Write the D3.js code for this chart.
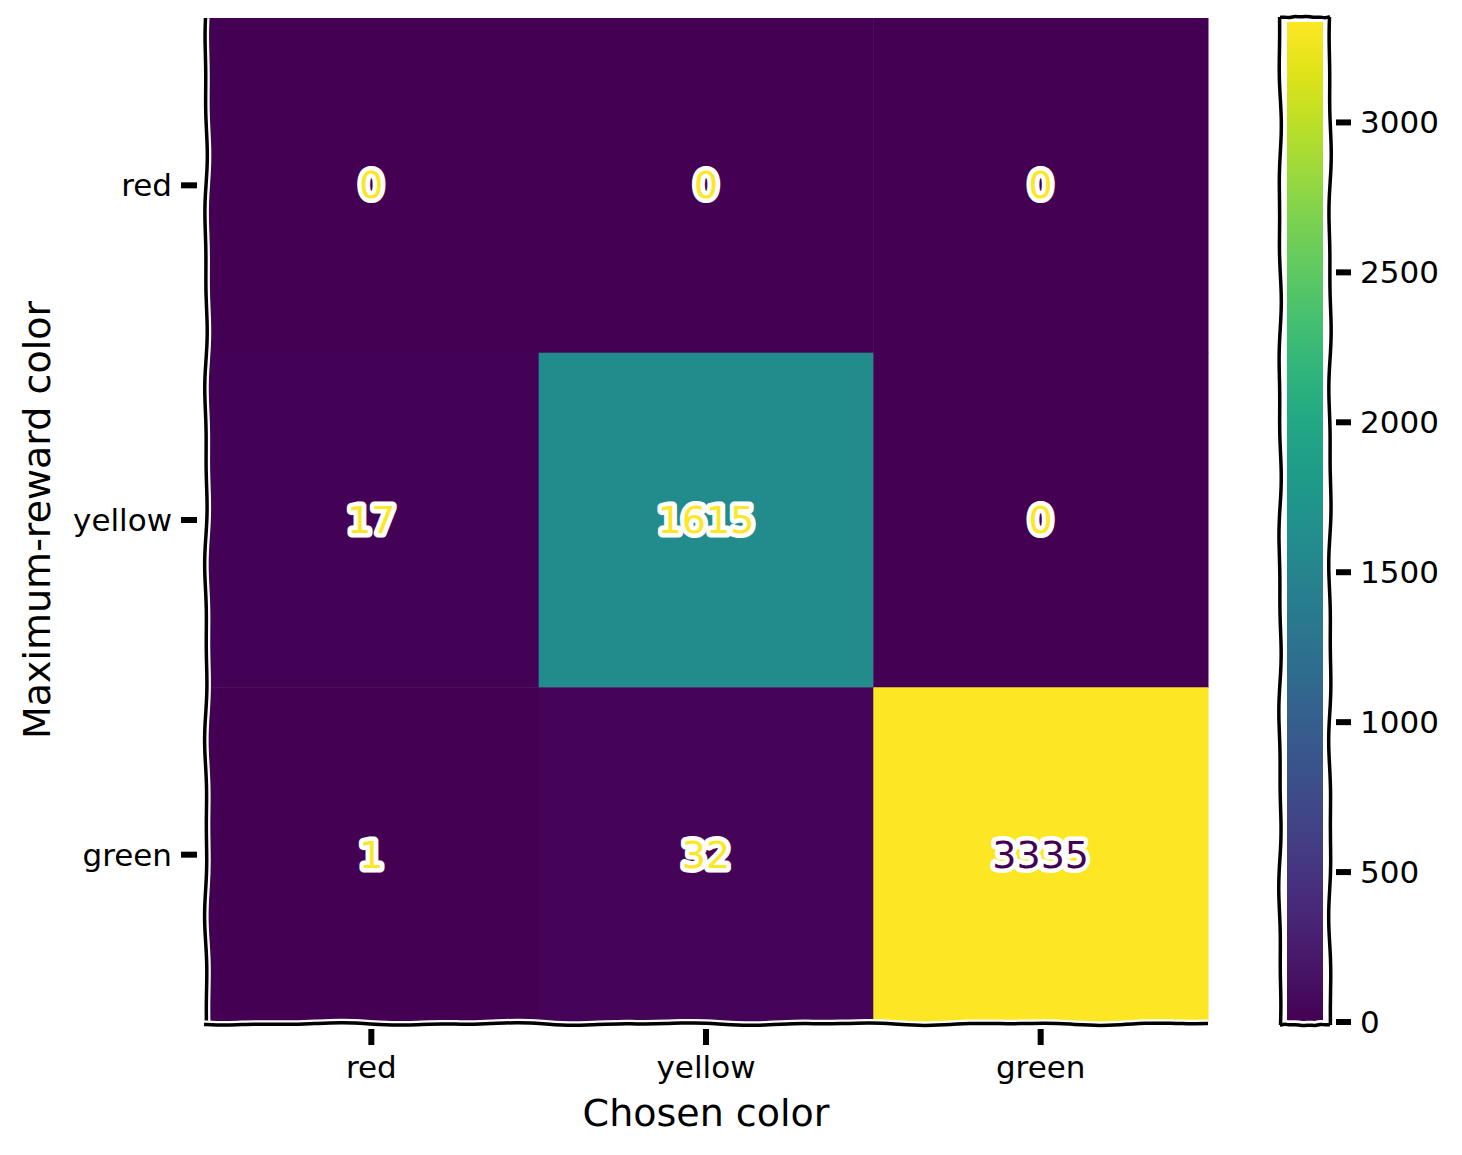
<!DOCTYPE html>
<html><head><meta charset="utf-8">
<script src="https://cdn.jsdelivr.net/npm/d3@7"></script>
<style>body{margin:0;background:#fff}svg text{font-family:"DejaVu Sans",sans-serif}</style>
</head><body><div id="chart"></div>
<script>
const rowLabels = ['red', 'yellow', 'green'];
const colLabels = ['red', 'yellow', 'green'];
const counts = [
  [0, 0, 0],
  [17, 1615, 0],
  [1, 32, 3335]
];
const cbTicks = [0, 500, 1000, 1500, 2000, 2500, 3000];

const W = 1462, H = 1155;
const svg = d3.select('#chart').append('svg').attr('width', W).attr('height', H);
const m = {left: 204, top: 18, size: 1004};
const vmax = 3335;
const color = d => d3.interpolateViridis(d / vmax);

const x = d3.scaleBand().domain(colLabels).range([m.left, m.left + m.size]);
const y = d3.scaleBand().domain(rowLabels).range([m.top, m.top + m.size]);

const cells = [];
counts.forEach((row, i) => row.forEach((v, j) => cells.push({r: rowLabels[i], c: colLabels[j], v})));

svg.selectAll('rect.cell').data(cells).enter().append('rect')
  .attr('x', d => x(d.c)).attr('y', d => y(d.r))
  .attr('width', x.bandwidth() + 0.5).attr('height', y.bandwidth() + 0.5)
  .attr('fill', d => color(d.v));

// wobbly line helper (xkcd style)
function wobble(x0, y0, x1, y1, amp, n) {
  const pts = [];
  const len = Math.hypot(x1 - x0, y1 - y0), nx = -(y1 - y0) / len, ny = (x1 - x0) / len;
  for (let k = 0; k <= n; k++) {
    const t = k / n;
    const o = amp * (Math.sin(t * 37) * 0.6 + Math.sin(t * 71 + 1) * 0.4);
    pts.push([x0 + (x1 - x0) * t + nx * o, y0 + (y1 - y0) * t + ny * o]);
  }
  return d3.line().curve(d3.curveBasis)(pts);
}
function spine(d) {
  svg.append('path').attr('d', d).attr('fill', 'none').attr('stroke', '#fff').attr('stroke-width', 8);
  svg.append('path').attr('d', d).attr('fill', 'none').attr('stroke', '#000').attr('stroke-width', 3.5);
}
spine(wobble(m.left + 2, m.top, m.left + 2, m.top + m.size + 2, 1.5, 80));
spine(wobble(m.left, m.top + m.size + 2, m.left + m.size, m.top + m.size + 2, 1.5, 80));

// cell labels
svg.selectAll('text.val').data(cells).enter().append('text')
  .attr('x', d => x(d.c) + x.bandwidth() / 2).attr('y', d => y(d.r) + y.bandwidth() / 2)
  .attr('text-anchor', 'middle').attr('dominant-baseline', 'central')
  .attr('font-size', 38)
  .attr('stroke', '#fff').attr('stroke-width', 9).attr('stroke-linejoin', 'round')
  .attr('paint-order', 'stroke')
  .attr('fill', d => d.v > vmax / 2 ? color(0) : color(vmax))
  .text(d => d.v);

// axis ticks
colLabels.forEach(c => {
  const cx = x(c) + x.bandwidth() / 2;
  svg.append('line').attr('x1', cx).attr('x2', cx).attr('y1', 1029).attr('y2', 1045).attr('stroke', '#000').attr('stroke-width', 6);
  svg.append('text').attr('x', cx).attr('y', 1078).attr('text-anchor', 'middle').attr('font-size', 31).text(c);
});
rowLabels.forEach(r => {
  const cy = y(r) + y.bandwidth() / 2;
  svg.append('line').attr('x1', 181).attr('x2', 197).attr('y1', cy).attr('y2', cy).attr('stroke', '#000').attr('stroke-width', 6);
  svg.append('text').attr('x', 172).attr('y', cy).attr('text-anchor', 'end').attr('dominant-baseline', 'central').attr('font-size', 31).text(r);
});
svg.append('text').attr('x', m.left + m.size / 2).attr('y', 1126).attr('text-anchor', 'middle').attr('font-size', 38).text('Chosen color');
svg.append('text').attr('transform', `translate(50,${m.top + m.size / 2}) rotate(-90)`).attr('text-anchor', 'middle').attr('font-size', 38).text('Maximum-reward color');

// colorbar
const cb = {x: 1287, w: 36, top: 22, bottom: 1022};
const cy = d3.scaleLinear().domain([0, vmax]).range([cb.bottom, cb.top]);
const grad = svg.append('defs').append('linearGradient').attr('id', 'vir').attr('x1', 0).attr('y1', 1).attr('x2', 0).attr('y2', 0);
d3.range(0, 1.0001, 0.05).forEach(t => grad.append('stop').attr('offset', t).attr('stop-color', d3.interpolateViridis(t)));
svg.append('rect').attr('x', cb.x).attr('y', cy(vmax)).attr('width', cb.w).attr('height', cy(0) - cy(vmax)).attr('fill', 'url(#vir)');
const frame = [wobble(cb.x - 7, cb.top - 5, cb.x + cb.w + 7, cb.top - 5, 1.2, 10),
  wobble(cb.x + cb.w + 7, cb.top - 5, cb.x + cb.w + 7, cb.bottom + 3, 1.5, 60),
  wobble(cb.x + cb.w + 7, cb.bottom + 3, cb.x - 7, cb.bottom + 3, 1.2, 10),
  wobble(cb.x - 7, cb.bottom + 3, cb.x - 7, cb.top - 5, 1.5, 60)];
frame.forEach(d => svg.append('path').attr('d', d).attr('fill', 'none').attr('stroke', '#fff').attr('stroke-width', 9));
frame.forEach(d => svg.append('path').attr('d', d).attr('fill', 'none').attr('stroke', '#000').attr('stroke-width', 3.5));
cbTicks.forEach(t => {
  svg.append('line').attr('x1', 1336).attr('x2', 1351).attr('y1', cy(t)).attr('y2', cy(t)).attr('stroke', '#000').attr('stroke-width', 6);
  svg.append('text').attr('x', 1360).attr('y', cy(t)).attr('dominant-baseline', 'central').attr('font-size', 31).text(t);
});
</script></body></html>
